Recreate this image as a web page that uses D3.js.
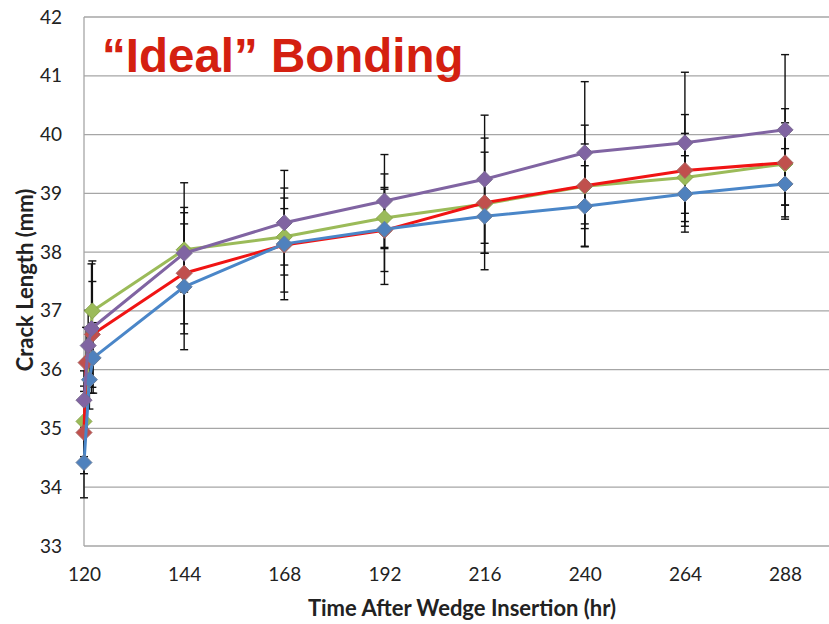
<!DOCTYPE html>
<html>
<head>
<meta charset="utf-8">
<script src="https://cdn.jsdelivr.net/npm/d3@7"></script>
<style>
  html, body { margin: 0; padding: 0; background: #fff; }
  svg { display: block; }
</style>
</head>
<body>
<svg id="chart" width="829" height="624"></svg>
<script>
// Crack length vs. time after wedge insertion, four specimens, mean ± error
const xTicks = [120, 144, 168, 192, 216, 240, 264, 288];
const yTicks = [33, 34, 35, 36, 37, 38, 39, 40, 41, 42];

const hoursA = [120, 121.3, 122.2, 144, 168, 192, 216, 240, 264, 288];
const crackA = [34.42, 35.83, 36.2, 37.41, 38.14, 38.39, 38.61, 38.78, 38.99, 39.16];
const errA   = [0.6, 0.5, 0.6, 1.07, 0.95, 0.94, 0.63, 0.69, 0.65, 0.6];

const hoursB = [120, 120.5, 122, 144, 168, 192, 216, 240, 264, 288];
const crackB = [34.93, 36.12, 36.6, 37.64, 38.12, 38.37, 38.84, 39.13, 39.39, 39.52];
const errB   = [0.7, 0.6, 0.9, 1.03, 0.8, 0.7, 0.86, 1.03, 0.95, 0.92];

const hoursC = [120, 122, 144, 168, 192, 216, 240, 264, 288];
const crackC = [35.12, 37.0, 38.04, 38.26, 38.58, 38.82, 39.12, 39.27, 39.5];
const errC   = [0.6, 0.85, 0.72, 0.48, 0.52, 1.12, 0.72, 0.75, 0.7];

const hoursD = [120, 121, 121.8, 144, 168, 192, 216, 240, 264, 288];
const crackD = [35.48, 36.41, 36.7, 37.98, 38.5, 38.87, 39.24, 39.69, 39.86, 40.08];
const errD   = [0.5, 0.6, 1.1, 1.2, 0.89, 0.79, 1.09, 1.21, 1.2, 1.28];

// drawing order: bottom to top
const series = [
  { hours: hoursC, crack: crackC, err: errC, line: "#9bbb59", fill: "#9bbb59", edge: "#8aa64c" },
  { hours: hoursB, crack: crackB, err: errB, line: "#f01414", fill: "#c0504d", edge: "#a8605e" },
  { hours: hoursA, crack: crackA, err: errA, line: "#4a86c8", fill: "#4f81bd", edge: "#6a7f9c" },
  { hours: hoursD, crack: crackD, err: errD, line: "#8064a2", fill: "#8064a2", edge: "#7a6a90" }
];

const svg = d3.select("#chart");
const plotLeft = 84, plotTop = 17, plotBottom = 546;
const x = d3.scaleLinear().domain([120, 300]).range([plotLeft, plotLeft + 180 * 4.173]);
const y = d3.scaleLinear().domain([33, 42]).range([plotBottom, plotTop]);

const font = "Lato, 'Open Sans', sans-serif";

// horizontal gridlines
svg.append("g").selectAll("line").data(yTicks).join("line")
  .attr("x1", plotLeft).attr("x2", 829)
  .attr("y1", d => y(d)).attr("y2", d => y(d))
  .attr("stroke", "#a6a6a6").attr("stroke-width", 1.3);

// y axis line
svg.append("line")
  .attr("x1", plotLeft).attr("x2", plotLeft).attr("y1", plotTop).attr("y2", plotBottom)
  .attr("stroke", "#a6a6a6").attr("stroke-width", 1.3);

// y tick labels
const yAxis = d3.axisLeft(y).tickValues(yTicks).tickSize(0).tickPadding(22);
const gy = svg.append("g").attr("transform", `translate(${plotLeft},0)`).call(yAxis);
gy.select(".domain").remove();
gy.selectAll("text").attr("font-family", font).attr("font-size", 19).attr("fill", "#222");

// x tick labels
const xAxis = d3.axisBottom(x).tickValues(xTicks).tickSize(0).tickPadding(22);
const gx = svg.append("g").attr("transform", `translate(0,${plotBottom})`).call(xAxis);
gx.select(".domain").remove();
gx.selectAll("text").attr("font-family", font).attr("font-size", 19).attr("fill", "#222");

// axis titles
svg.append("text")
  .attr("x", 462).attr("y", 616)
  .attr("text-anchor", "middle")
  .attr("font-family", font).attr("font-weight", "bold").attr("font-size", 22)
  .attr("fill", "#222")
  .text("Time After Wedge Insertion (hr)");

svg.append("text")
  .attr("transform", "translate(33,280) rotate(-90)")
  .attr("text-anchor", "middle")
  .attr("font-family", font).attr("font-weight", "bold").attr("font-size", 22)
  .attr("fill", "#222")
  .text("Crack Length (mm)");

// error bars
const capHalf = 4;
const eb = svg.append("g").attr("stroke", "#111").attr("stroke-width", 1.4);
series.forEach(s => {
  s.hours.forEach((h, i) => {
    const cx = x(h), lo = y(s.crack[i] - s.err[i]), hi = y(s.crack[i] + s.err[i]);
    eb.append("line").attr("x1", cx).attr("x2", cx).attr("y1", lo).attr("y2", hi);
    eb.append("line").attr("x1", cx - capHalf).attr("x2", cx + capHalf).attr("y1", lo).attr("y2", lo);
    eb.append("line").attr("x1", cx - capHalf).attr("x2", cx + capHalf).attr("y1", hi).attr("y2", hi);
  });
});

// lines and diamond markers
const line = d3.line().x(d => x(d[0])).y(d => y(d[1]));
const r = 8;
series.forEach(s => {
  const pts = s.hours.map((h, i) => [h, s.crack[i]]);
  svg.append("path").datum(pts)
    .attr("d", line).attr("fill", "none")
    .attr("stroke", s.line).attr("stroke-width", 3).attr("stroke-linejoin", "round");
  svg.append("g").selectAll("path").data(pts).join("path")
    .attr("d", d => {
      const cx = x(d[0]), cy = y(d[1]);
      return `M${cx},${cy - r}L${cx + r},${cy}L${cx},${cy + r}L${cx - r},${cy}Z`;
    })
    .attr("fill", s.fill).attr("stroke", s.edge).attr("stroke-width", 1);
});

// heading
svg.append("text")
  .attr("x", 102).attr("y", 72)
  .attr("font-family", "'Liberation Sans', Arial, sans-serif")
  .attr("font-weight", "bold").attr("font-size", 47.5)
  .attr("fill", "#d42010")
  .text("\u201CIdeal\u201D Bonding");
</script>
</body>
</html>
